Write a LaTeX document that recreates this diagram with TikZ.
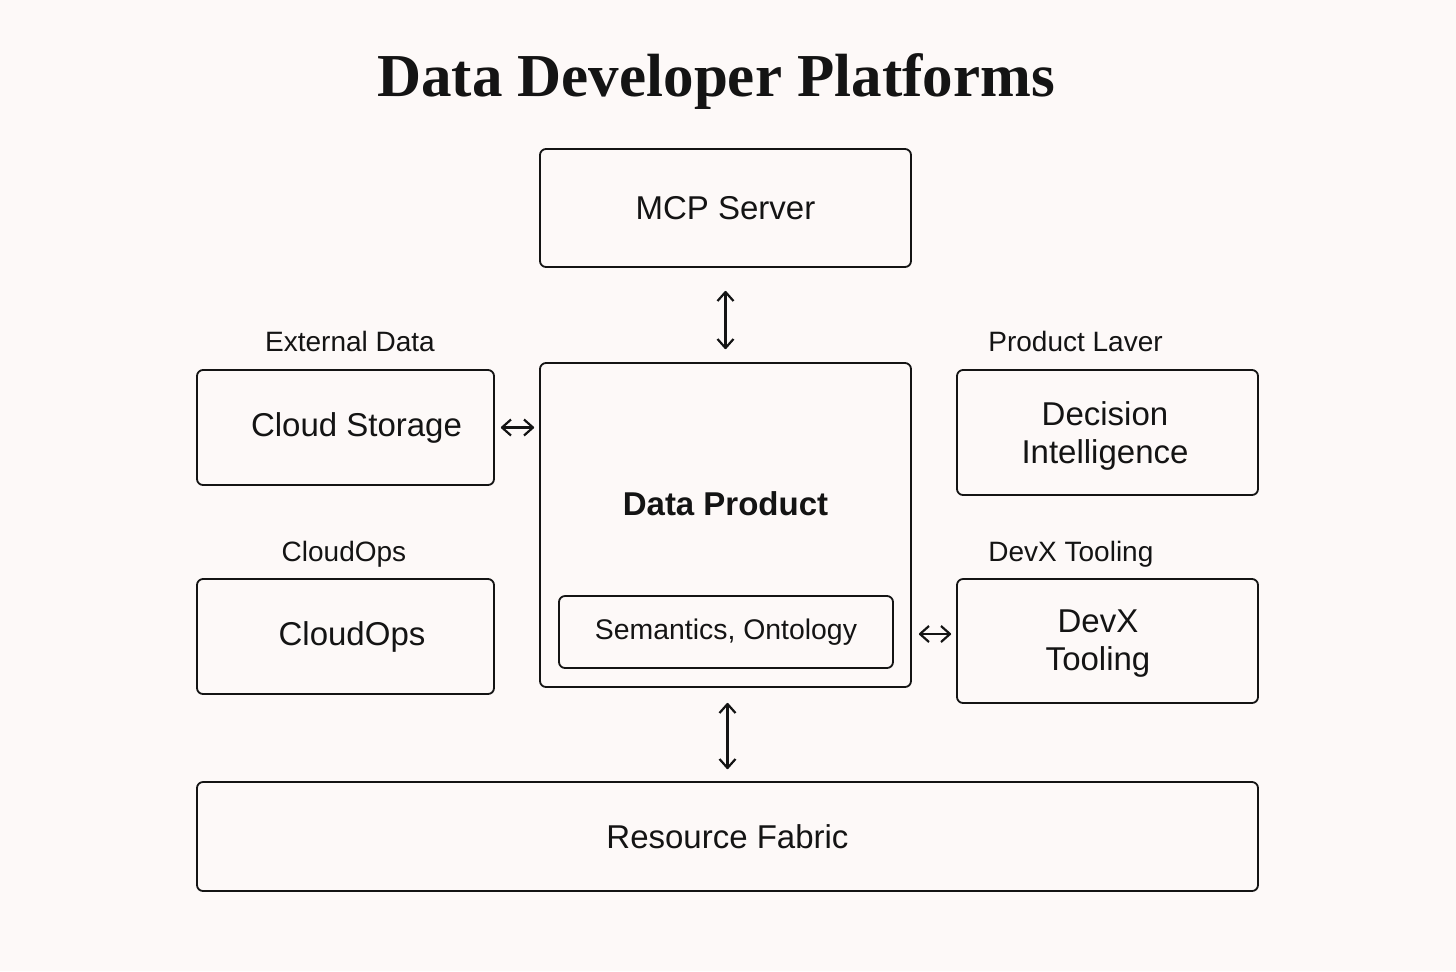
\documentclass[tikz,border=0pt]{standalone}
\usepackage{fontspec}
\setmainfont{Liberation Sans}
\newfontfamily\titlefont{Liberation Serif}
\usetikzlibrary{arrows.meta}
\definecolor{bg}{HTML}{FDF9F8}
\definecolor{ink}{HTML}{141414}
\begin{document}
\begin{tikzpicture}[x=0.5pt,y=-0.5pt,
  box/.style={draw=ink,line width=0.9pt,rounded corners=3pt,fill=bg,text=ink,align=center,inner sep=0pt,font=\fontsize{16.5}{19}\selectfont},
  txt/.style={text=ink,align=center,inner sep=0pt,font=\fontsize{16.5}{19}\selectfont},
  lbl/.style={text=ink,inner sep=0pt,font=\fontsize{14}{16}\selectfont},
  conn/.style={draw=ink,line width=1.1pt,{Straight Barb[length=4.5pt,width=8pt,line join=round]}-{Straight Barb[length=4.5pt,width=8pt,line join=round]}}]
\useasboundingbox (0,0) rectangle (1456,971);
\fill[bg] (0,0) rectangle (1456,971);
\node[text=ink,inner sep=0pt,font=\titlefont\bfseries\fontsize{30.5}{34}\selectfont] (title) at (716,82) {Data Developer Platforms};
\node[box,minimum width=185.5pt,minimum height=59pt] (mcp) at (725.5,208) {\raisebox{-1pt}{MCP Server}};
\node[box,minimum width=185.5pt,minimum height=162pt] (dp) at (725.5,525) {};
\node[text=ink,inner sep=0pt,font=\bfseries\fontsize{16.5}{19}\selectfont] (dpt) at (725.5,504) {Data Product};
\node[box,minimum width=167pt,minimum height=36pt,font=\fontsize{14.2}{16}\selectfont] (sem) at (726,632) {\raisebox{-0.8pt}{Semantics, Ontology}};
\node[box,minimum width=148.5pt,minimum height=57.5pt] (cs) at (345.5,427.5) {\hspace*{11pt}Cloud Storage};
\node[box,minimum width=148.5pt,minimum height=57.5pt] (co) at (345.5,636.5) {\hspace*{6.5pt}CloudOps};
\node[box,minimum width=150.5pt,minimum height=62.5pt] (di) at (1107.5,432.5) {};
\node[txt] (dit) at (1105,436) {Decision\\Intelligence};
\node[box,minimum width=150.5pt,minimum height=62pt] (dx) at (1107.5,641) {};
\node[txt] (dxt) at (1098,644) {DevX\\Tooling};
\node[box,minimum width=530.5pt,minimum height=54.5pt] (rf) at (727.5,836.5) {Resource Fabric};
\node[lbl,anchor=base] (lext) at (350,351) {External Data};
\node[lbl,anchor=base] (lco) at (344,561) {CloudOps};
\node[lbl,anchor=base west] (lpl) at (988,351) {Product Laver};
\node[lbl,anchor=base west] (ldx) at (988,561) {DevX Tooling};
\draw[conn,shorten <=11.5pt,shorten >=6.5pt] (mcp.south) -- (dp.north);
\draw[conn,shorten <=7.5pt,shorten >=6pt] (dp.south -| rf.north) -- (rf.north);
\draw[conn,shorten <=3pt,shorten >=2.5pt] (cs.east) -- (cs.east -| dp.west);
\coordinate (r1) at (911,634);
\coordinate (r2) at (957,634);
\draw[conn,shorten <=3.5pt,shorten >=2.5pt] (dp.east |- r1) -- (dx.west |- r2);
\end{tikzpicture}
\end{document}
